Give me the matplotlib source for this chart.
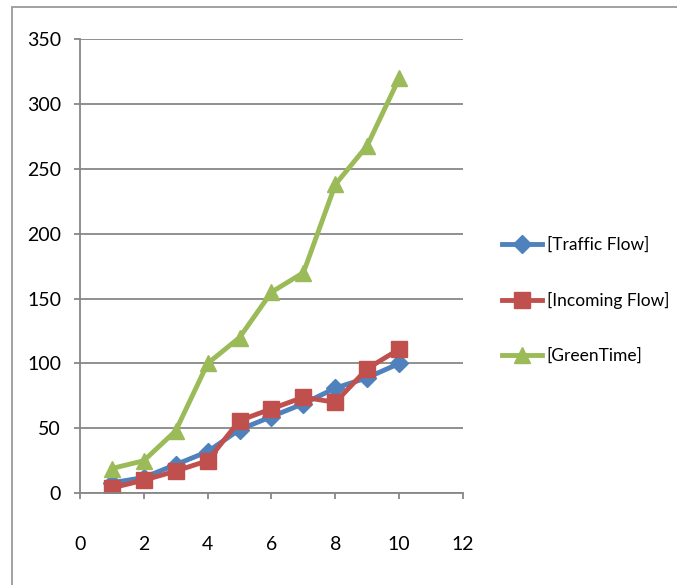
import matplotlib.pyplot as plt
from matplotlib.patches import Rectangle

plt.rcParams['font.family'] = ['Lato', 'DejaVu Sans']

x = [1, 2, 3, 4, 5, 6, 7, 8, 9, 10]
traffic_flow = [8, 12, 22, 32, 49, 59, 69, 81, 89, 100]
incoming_flow = [4, 10, 17, 25, 56, 65, 74, 70, 96, 111]
green_time = [19, 25, 48, 100, 120, 155, 170, 238, 268, 320]

fig = plt.figure(figsize=(6.77, 5.85), dpi=100)
ax = fig.add_axes([0.118, 0.157, 0.566, 0.776])

ax.plot(x, traffic_flow, color='#4F81BD', lw=3.5, marker='D', ms=9.5, label='[Traffic Flow]')
ax.plot(x, incoming_flow, color='#C0504D', lw=3.5, marker='s', ms=11.5, label='[Incoming Flow]')
ax.plot(x, green_time, color='#9BBB59', lw=3.5, marker='^', ms=12, label='[GreenTime]')

ax.set_xlim(0, 12)
ax.set_ylim(0, 350)
ax.set_xticks(range(0, 13, 2))
ax.set_yticks(range(0, 351, 50))
ax.yaxis.grid(True, color='#878787', lw=1.3)
ax.set_axisbelow(True)
for s in ['top', 'right']:
    ax.spines[s].set_visible(False)
for s in ['left', 'bottom']:
    ax.spines[s].set_color('#878787')
    ax.spines[s].set_linewidth(1.3)
ax.tick_params(colors='#878787', labelcolor='black', labelsize=14, length=4.5, width=1.3)
ax.tick_params(axis='x', pad=26)
ax.tick_params(axis='y', pad=9)

ax.legend(loc='center left', bbox_to_anchor=(1.06, 0.425), frameon=False,
          fontsize=12.5, labelspacing=2.25, handlelength=2.3, handletextpad=0.3)

# chart frame, open on the right and bottom
fig.add_artist(Rectangle((12 / 677, -0.05), 1.2, 1 - 7 / 585 + 0.05, transform=fig.transFigure,
                         fill=False, edgecolor='#9a9a9a', lw=1.3))

fig.savefig('out.png', dpi=100)
